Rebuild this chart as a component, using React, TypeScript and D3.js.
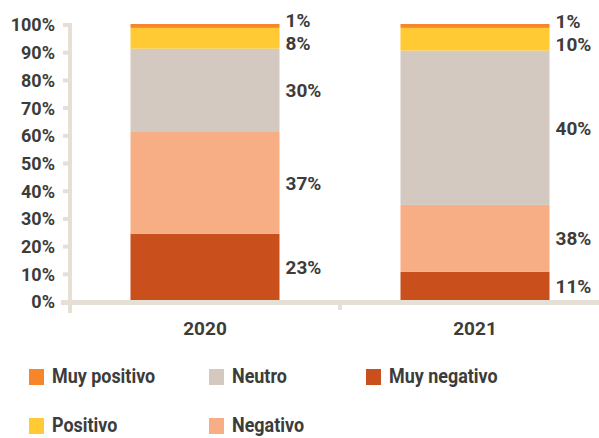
import * as d3 from "d3";
import { useEffect } from "react";

// drawn segment heights (% of bar)
const years = ["2020", "2021"];
const muyNegativo = [24.3, 10.5];
const negativo = [36.7, 24.2];
const neutro = [30.1, 55.7];
const positivo = [7.5, 8.2];
const muyPositivo = [1.4, 1.4];

// printed labels next to each segment
const lblMuyNegativo = ["23%", "11%"];
const lblNegativo = ["37%", "38%"];
const lblNeutro = ["30%", "40%"];
const lblPositivo = ["8%", "10%"];
const lblMuyPositivo = ["1%", "1%"];

const yTicks = [0, 10, 20, 30, 40, 50, 60, 70, 80, 90, 100];

const seriesNames = ["Muy negativo", "Negativo", "Neutro", "Positivo", "Muy positivo"];
const colors = ["#C9501D", "#F7AE84", "#D4C9C0", "#FFCA33", "#F7852A"];

const W = 599;
const H = 438;
const FONT = "Roboto, sans-serif";
const TXT = "#3c3c3b";
const AXIS = "#e5dfd5";

const App = () => {
  useEffect(() => {
    document.body.style.margin = "0";
  }, []);

  const seriesVals = [muyNegativo, negativo, neutro, positivo, muyPositivo];
  const seriesLbls = [lblMuyNegativo, lblNegativo, lblNeutro, lblPositivo, lblMuyPositivo];

  const rows = years.map((yr, i) => {
    const r: any = { year: yr };
    seriesNames.forEach((s, k) => (r[s] = seriesVals[k][i]));
    return r;
  });
  const stacked = d3.stack().keys(seriesNames)(rows);

  const x = d3.scaleBand().domain(years).range([70, 610]).paddingInner(0).paddingOuter(0);
  const barW = 149;
  const y = d3.scaleLinear().domain([0, 100]).range([301, 24]);

  // label positions: segment centers, spread apart when they collide
  const labelPos = years.map((_, i) => {
    const pos = stacked.map((s) => (y(s[i][0]) + y(s[i][1])) / 2);
    const gap = 23;
    for (let it = 0; it < 5; it++) {
      for (let k = 0; k < pos.length - 1; k++) {
        if (pos[k] - pos[k + 1] < gap) {
          const mid = (pos[k] + pos[k + 1]) / 2;
          pos[k] = mid + gap / 2;
          pos[k + 1] = mid - gap / 2;
        }
      }
    }
    return pos;
  });

  const legend = [
    { name: "Muy positivo", color: colors[4], x: 29, y: 369 },
    { name: "Neutro", color: colors[2], x: 209, y: 369 },
    { name: "Muy negativo", color: colors[0], x: 366, y: 369 },
    { name: "Positivo", color: colors[3], x: 29, y: 418 },
    { name: "Negativo", color: colors[1], x: 209, y: 418 },
  ];

  return (
    <svg width={W} height={H} style={{ display: "block" }} fontFamily={FONT}>
      {/* bars */}
      {stacked.map((s, k) => (
        <g key={s.key} fill={colors[k]}>
          {s.map((d, i) => (
            <rect
              key={i}
              x={(x(years[i]) as number) + x.bandwidth() / 2 - barW / 2}
              y={y(d[1])}
              width={barW}
              height={y(d[0]) - y(d[1])}
            />
          ))}
        </g>
      ))}

      {/* axes */}
      <line x1={70} x2={70} y1={23} y2={313} stroke={AXIS} strokeWidth={4} />
      <line x1={61} x2={W} y1={302.5} y2={302.5} stroke={AXIS} strokeWidth={5} />
      {yTicks.map((t) => (
        <g key={t}>
          <line x1={63} x2={70} y1={y(t) + 1} y2={y(t) + 1} stroke={AXIS} strokeWidth={4} />
          <text
            x={55}
            y={y(t) + 1}
            dy="0.36em"
            textAnchor="end"
            fontSize={18}
            fontWeight={700}
            fill={TXT}
          >
            {t}%
          </text>
        </g>
      ))}
      <line x1={x("2021") as number} x2={x("2021") as number} y1={304} y2={310} stroke={AXIS} strokeWidth={4} />
      {years.map((yr) => (
        <text
          key={yr}
          x={(x(yr) as number) + x.bandwidth() / 2}
          y={334.5}
          textAnchor="middle"
          fontSize={19}
          fontWeight={700}
          fill={TXT}
        >
          {yr}
        </text>
      ))}

      {/* value labels */}
      {years.map((yr, i) =>
        seriesLbls.map((l, k) => (
          <text
            key={yr + k}
            x={(x(yr) as number) + x.bandwidth() / 2 + barW / 2 + 6}
            y={labelPos[i][k]}
            dy="0.36em"
            fontSize={19}
            fontWeight={700}
            fill={TXT}
          >
            {l[i]}
          </text>
        ))
      )}

      {/* legend */}
      {legend.map((d) => (
        <g key={d.name}>
          <rect x={d.x} y={d.y} width={15} height={16} fill={d.color} />
          <text
            transform={`translate(${d.x + 23},${d.y + 14}) scale(0.92,1)`}
            fontSize={19.5}
            fontWeight={700}
            fill={TXT}
          >
            {d.name}
          </text>
        </g>
      ))}
    </svg>
  );
};

export default App;
